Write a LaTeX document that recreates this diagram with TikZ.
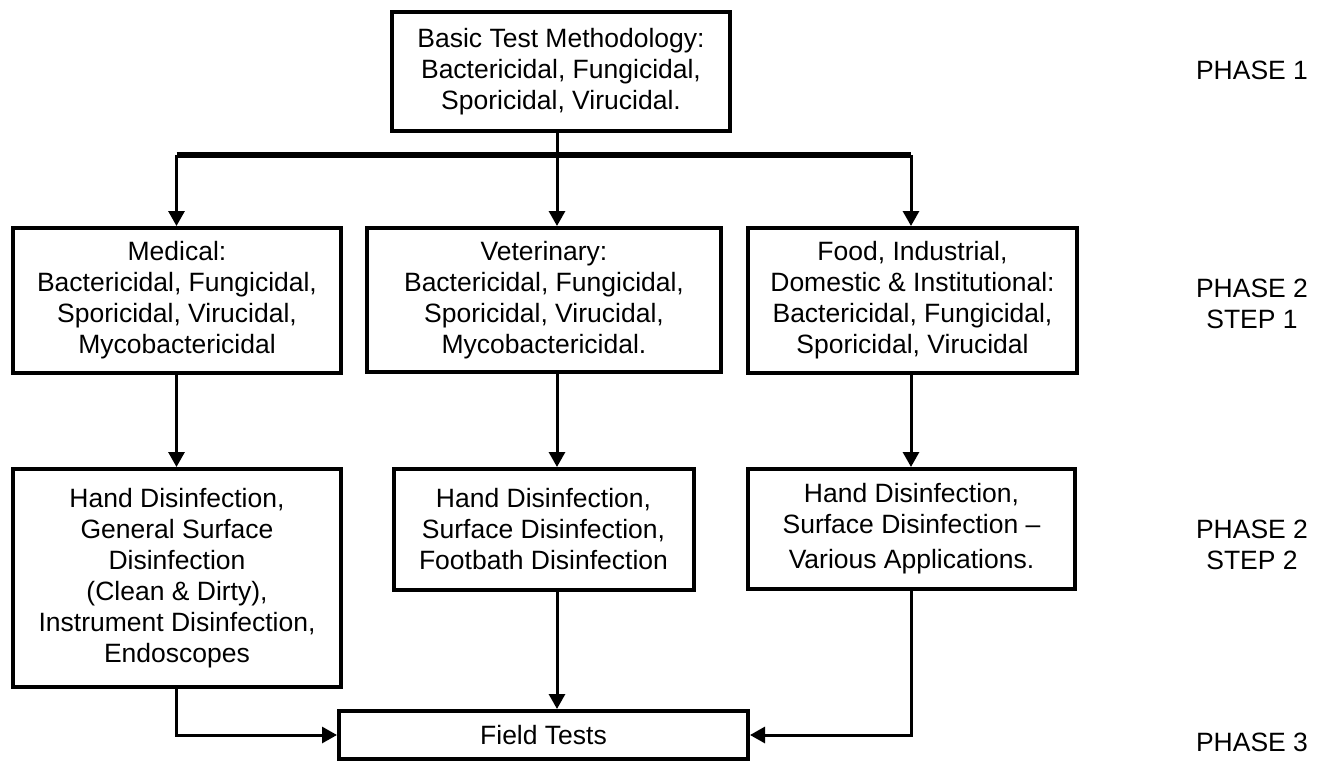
\documentclass[tikz,border=0pt]{standalone}
\usepackage{fontspec}
\setmainfont{Liberation Sans}
\usetikzlibrary{arrows.meta}
\begin{document}
\begin{tikzpicture}[x=1pt,y=-1pt,
  txt/.style={font=\fontsize{26.5}{31}\selectfont, align=center, inner sep=0pt},
  box/.style={txt, draw, line width=4pt, minimum width=#1},
  conn/.style={line width=3pt},
  arr/.style={conn, -{Triangle[width=16pt,length=15pt]}},
  bus/.style={line width=6pt}]
\useasboundingbox (0,0) rectangle (1318,761);
% boxes
\node[box=338pt, minimum height=119pt] (top) at (561,71.5)
  {Basic Test Methodology:\\Bactericidal, Fungicidal,\\Sporicidal, Virucidal.};
\node[box=328pt, minimum height=145pt] (med) at (177,300.5)
  {Medical:\\Bactericidal, Fungicidal,\\Sporicidal, Virucidal,\\Mycobactericidal};
\node[box=354pt, minimum height=144pt] (vet) at (544,300)
  {Veterinary:\\Bactericidal, Fungicidal,\\Sporicidal, Virucidal,\\Mycobactericidal.};
\node[box=329pt, minimum height=145pt] (food) at (912.5,300.5)
  {Food, Industrial,\\Domestic \& Institutional:\\Bactericidal, Fungicidal,\\Sporicidal, Virucidal};
\node[box=328pt, minimum height=218pt] (hmed) at (177,578)
  {Hand Disinfection,\\General Surface\\Disinfection\\(Clean \& Dirty),\\Instrument Disinfection,\\Endoscopes};
\node[box=300pt, minimum height=121pt] (hvet) at (543.5,529.5)
  {Hand Disinfection,\\Surface Disinfection,\\Footbath Disinfection};
\node[box=327pt, minimum height=120pt] (hfood) at (911.5,529)
  {Hand Disinfection,\\Surface Disinfection --\\[4pt]Various Applications.};
\node[box=409pt, minimum height=48pt] (field) at (543.5,735) {Field Tests};
% phase labels
\node[txt] (p1) at (1252,70) {PHASE 1};
\node[txt] (p2) at (1252,304) {PHASE 2\\STEP 1};
\node[txt] (p3) at (1252,545) {PHASE 2\\STEP 2};
\node[txt] (p4) at (1252,742) {PHASE 3};
% connectors
\coordinate (busL) at (176.5,155);
\coordinate (busM) at (557,155);
\coordinate (busR) at (911,155);
\draw[conn] (top.south -| busM) -- (busM);
\draw[bus] (busL) -- (busR);
\draw[arr] (busL) -- (busL |- med.north);
\draw[arr] (busM) -- (busM |- vet.north);
\draw[arr] (busR) -- (busR |- food.north);
\draw[arr] (med.south -| busL) -- (hmed.north -| busL);
\draw[arr] (vet.south -| busM) -- (hvet.north -| busM);
\draw[arr] (food.south -| busR) -- (hfood.north -| busR);
\draw[arr] (hmed.south -| busL) |- (field.west);
\draw[arr] (hvet.south -| busM) -- (field.north -| busM);
\draw[arr] (hfood.south -| busR) |- (field.east);
\end{tikzpicture}
\end{document}
